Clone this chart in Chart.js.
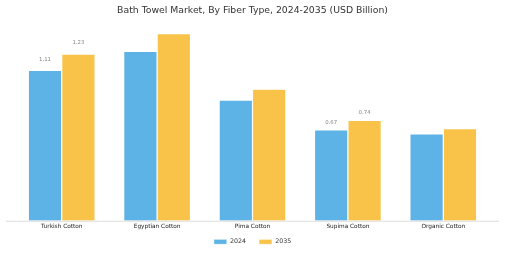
<!DOCTYPE html>
<html>
<head>
<meta charset="utf-8">
<script src="https://cdn.jsdelivr.net/npm/chart.js@4"></script>
<style>
html,body{margin:0;padding:0;background:#fff;}
#wrap{width:505px;height:253px;position:relative;}
</style>
</head>
<body>
<div id="wrap"><canvas id="c"></canvas></div>
<script>
const categories = ["Turkish Cotton", "Egyptian Cotton", "Pima Cotton", "Supima Cotton", "Organic Cotton"];
const values2024 = [1.11, 1.25, 0.89, 0.67, 0.64];
const values2035 = [1.23, 1.38, 0.97, 0.74, 0.68];
const labels2024 = ["1.11", null, null, "0.67", null];
const labels2035 = ["1.23", null, null, "0.74", null];
const seriesNames = ["2024", "2035"];

const valueLabels = {
  id: 'valueLabels',
  afterDatasetsDraw(chart) {
    const ctx = chart.ctx;
    const sets = [labels2024, labels2035];
    ctx.save();
    ctx.font = '5.4px "DejaVu Sans"';
    ctx.fillStyle = '#888';
    ctx.textAlign = 'center';
    ctx.textBaseline = 'middle';
    chart.data.datasets.forEach((ds, i) => {
      const meta = chart.getDatasetMeta(i);
      meta.data.forEach((bar, j) => {
        const t = sets[i][j];
        if (t) ctx.fillText(t, bar.x, bar.y - (2 + 8 * ds.data[j]));
      });
    });
    ctx.restore();
  }
};

const baseLine = {
  id: 'baseLine',
  afterLayout(chart) {
    const x = chart.scales.x;
    x.bottom = x.top + 14;
  },
  afterDatasetsDraw(chart) {
    const ctx = chart.ctx;
    const a = chart.chartArea;
    const y = chart.scales.y.getPixelForValue(0) + 0.5;
    ctx.save();
    ctx.strokeStyle = '#dddddd';
    ctx.lineWidth = 1;
    ctx.beginPath();
    ctx.moveTo(a.left - 8, y);
    ctx.lineTo(a.right + 8, y);
    ctx.stroke();
    ctx.restore();
  }
};

new Chart(document.getElementById('c'), {
  type: 'bar',
  data: {
    labels: categories,
    datasets: [
      { label: seriesNames[0], data: values2024, backgroundColor: '#5DB3E6', borderColor: '#ffffff', borderWidth: 0.6,
        categoryPercentage: 0.7, barPercentage: 1.0 },
      { label: seriesNames[1], data: values2035, backgroundColor: '#F9C34A', borderColor: '#ffffff', borderWidth: 0.6,
        categoryPercentage: 0.7, barPercentage: 1.0 }
    ]
  },
  options: {
    responsive: true,
    maintainAspectRatio: false,
    animation: false,
    layout: { padding: { left: 14, right: 14, top: 5, bottom: -2 } },
    plugins: {
      title: {
        display: true,
        text: 'Bath Towel Market, By Fiber Type, 2024-2035 (USD Billion)',
        color: '#333333',
        font: { family: 'DejaVu Sans', size: 9.3, weight: 'normal' },
        padding: { top: 0, bottom: 9 }
      },
      legend: {
        position: 'bottom',
        labels: {
          color: '#333333',
          font: { family: 'DejaVu Sans', size: 6.3 },
          boxWidth: 13,
          boxHeight: 5,
          padding: 13
        }
      },
      tooltip: { enabled: false }
    },
    scales: {
      x: {
        grid: { display: false, drawTicks: false },
        border: { display: false },
        ticks: { color: '#222222', font: { family: 'DejaVu Sans', size: 5.8 }, padding: 2.5, maxRotation: 0 },
        afterFit: (s) => { s.height = s.height - 7; }
      },
      y: {
        display: false,
        min: 0,
        max: 1.443
      }
    }
  },
  plugins: [valueLabels, baseLine]
});
</script>
</body>
</html>
